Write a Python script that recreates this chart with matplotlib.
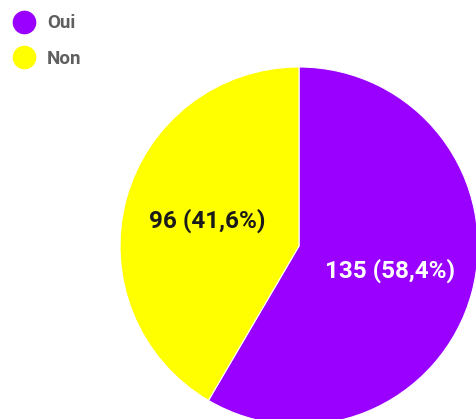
import matplotlib
matplotlib.use('Agg')
import matplotlib.pyplot as plt
from matplotlib.lines import Line2D

labels = ['Oui', 'Non']
counts = [135, 96]
colors = ['#9900ff', '#ffff00']
text_colors = ['white', '#1a1a1a']

W, H = 476, 419

plt.rcParams['font.family'] = ['Roboto', 'DejaVu Sans']

fig = plt.figure(figsize=(W / 100, H / 100), dpi=100)
ax = fig.add_axes([0, 0, 1, 1])

total = sum(counts)


def fmt(pct):
    n = int(round(pct * total / 100))
    return '{} ({})'.format(n, ('%.1f%%' % pct).replace('.', ','))


wedges, texts, autotexts = ax.pie(counts, colors=colors, startangle=90, counterclock=False,
                                  center=(299, H - 246), radius=179, autopct=fmt,
                                  pctdistance=0.53, frame=True,
                                  wedgeprops=dict(edgecolor='white', linewidth=0.8))
ax.set_xlim(0, W)
ax.set_ylim(0, H)
ax.set_aspect('equal')
ax.axis('off')
for t, c in zip(autotexts, text_colors):
    t.set_color(c)
    t.set_fontsize(17.5)
    t.set_fontweight('bold')

handles = [Line2D([], [], marker='o', linestyle='none', markersize=16,
                  markerfacecolor=c, markeredgecolor=c) for c in colors]
leg = ax.legend(handles, labels, loc='upper left', bbox_to_anchor=(0 / W, 1 - 1 / H),
                frameon=False, fontsize=13.5, handletextpad=0.6, labelspacing=0.95,
                borderpad=0.2, handlelength=1.2)
for t in leg.get_texts():
    t.set_color('#5f5f5f')
    t.set_fontweight('bold')

fig.savefig('out.png', dpi=100)
